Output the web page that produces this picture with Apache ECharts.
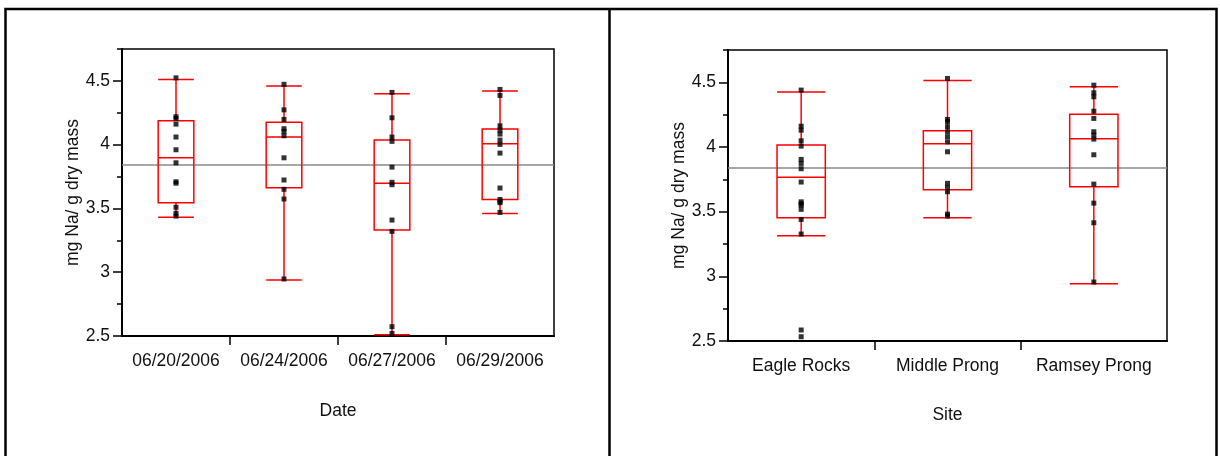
<!DOCTYPE html>
<html>
<head>
<meta charset="utf-8">
<script src="https://cdn.jsdelivr.net/npm/echarts@6/dist/echarts.min.js"></script>
<style>
html,body{margin:0;padding:0;background:#fff;}
#c{width:1220px;height:456px;}
</style>
</head>
<body>
<div id="c"></div>
<script>
// ---- data ----
const dates = ['06/20/2006', '06/24/2006', '06/27/2006', '06/29/2006'];
const sites = ['Eagle Rocks', 'Middle Prong', 'Ramsey Prong'];

// [min, Q1, median, Q3, max]
const dateBoxes = [
  [3.43, 3.545, 3.897, 4.187, 4.51],
  [2.94, 3.662, 4.06, 4.175, 4.46],
  [2.51, 3.331, 3.697, 4.036, 4.40],
  [3.46, 3.571, 4.007, 4.122, 4.42]
];
const datePoints = [
  [4.524, 4.219, 4.205, 4.161, 4.06, 3.96, 3.858, 3.709, 3.698, 3.509, 3.462, 3.44],
  [4.473, 4.273, 4.198, 4.125, 4.104, 4.07, 3.897, 3.723, 3.65, 3.574, 2.947],
  [4.41, 4.211, 4.06, 4.026, 3.824, 3.705, 3.686, 3.409, 3.32, 2.573, 2.52],
  [4.433, 4.386, 4.148, 4.114, 4.083, 4.036, 4.002, 3.934, 3.66, 3.57, 3.556, 3.545, 3.469]
];

const siteBoxes = [
  [3.314, 3.452, 3.766, 4.015, 4.426],
  [3.453, 3.67, 4.026, 4.125, 4.515],
  [2.943, 3.692, 4.063, 4.254, 4.465]
];
const sitePoints = [
  [4.44, 4.161, 4.13, 4.048, 4.007, 3.904, 3.873, 3.832, 3.729, 3.576, 3.561, 3.551, 3.518, 3.44, 3.327, 2.585, 2.533],
  [4.53, 4.213, 4.195, 4.156, 4.117, 4.079, 4.04, 3.963, 3.719, 3.688, 3.654, 3.481, 3.466],
  [4.478, 4.419, 4.388, 4.277, 4.221, 4.118, 4.092, 4.061, 3.94, 3.713, 3.566, 3.414, 2.956]
];

const grandMean = 3.837;
const yMin = 2.5, yMax = 4.75;
const yTicks = [2.5, 3, 3.5, 4, 4.5];
const yMinorTicks = [2.75, 3.25, 3.75, 4.25, 4.75];
const yTitle = 'mg Na/ g dry mass';
const xTitles = ['Date', 'Site'];

// ---- chart ----
const FONT = '"Liberation Sans", Arial, sans-serif';
const TXT = '#111';
const RED = '#ff0000';
const FS = 17.5;

function toPts(groups) {
  const out = [];
  groups.forEach((vals, i) => vals.forEach(v => out.push([i, v])));
  return out;
}
function innerBoundaries(n) {
  const b = [];
  for (let i = 1; i < n; i++) b.push(i);
  return b;
}

const grids = [
  {left: 122, top: 49, width: 432, height: 287},
  {left: 728, top: 50, width: 439, height: 291}
];
const panels = [
  {cats: dates, boxes: dateBoxes, pts: datePoints, xName: xTitles[0], nameGap: 66},
  {cats: sites, boxes: siteBoxes, pts: sitePoints, xName: xTitles[1], nameGap: 65}
];

const xAxis = [], yAxis = [], series = [];
panels.forEach((p, g) => {
  const xi = xAxis.length;
  xAxis.push({
    type: 'category', gridIndex: g, data: p.cats,
    axisLine: {lineStyle: {color: '#000', width: 2}},
    axisTick: {show: false},
    axisLabel: {color: TXT, fontSize: FS, fontFamily: FONT, margin: 16, interval: 0},
    name: p.xName, nameLocation: 'middle', nameGap: p.nameGap,
    nameTextStyle: {color: TXT, fontSize: FS, fontFamily: FONT},
    splitLine: {show: false}
  });
  xAxis.push({
    type: 'value', gridIndex: g, min: 0, max: p.cats.length, position: 'bottom',
    axisLine: {show: false},
    axisTick: {show: true, length: 9, customValues: innerBoundaries(p.cats.length),
      lineStyle: {color: '#000', width: 1.5}},
    axisLabel: {show: false}, splitLine: {show: false}
  });
  const yi = yAxis.length;
  yAxis.push({
    type: 'value', gridIndex: g, min: yMin, max: yMax,
    axisLine: {show: true, lineStyle: {color: '#000', width: 2}},
    axisTick: {show: true, length: 9, customValues: yTicks, lineStyle: {color: '#000', width: 1.5}},
    axisLabel: {color: TXT, fontSize: FS, fontFamily: FONT, margin: 12, customValues: yTicks,
      formatter: v => String(v)},
    splitLine: {show: false},
    name: yTitle, nameLocation: 'middle', nameGap: 40, nameRotate: 90,
    nameTextStyle: {color: TXT, fontSize: FS, fontFamily: FONT}
  });
  yAxis.push({
    type: 'value', gridIndex: g, min: yMin, max: yMax, position: 'left',
    axisLine: {show: false},
    axisTick: {show: true, length: 5, customValues: yMinorTicks, lineStyle: {color: '#000', width: 1.5}},
    axisLabel: {show: false}, splitLine: {show: false}
  });
  series.push({
    type: 'boxplot', xAxisIndex: xi, yAxisIndex: yi,
    data: p.boxes,
    boxWidth: ['33%', '33%'],
    itemStyle: {color: 'rgba(0,0,0,0)', borderColor: RED, borderWidth: 1.5},
    emphasis: {disabled: true},
    z: 3,
    markLine: {
      silent: true, symbol: ['none', 'none'], label: {show: false},
      lineStyle: {color: '#8a8a8a', width: 1.6, type: 'solid'},
      emphasis: {disabled: true},
      data: [{yAxis: grandMean}],
      z: 2
    }
  });
  series.push({
    type: 'scatter', xAxisIndex: xi, yAxisIndex: yi,
    data: toPts(p.pts),
    symbol: 'rect', symbolSize: 5,
    itemStyle: {color: '#000'},
    emphasis: {disabled: true},
    z: 5
  });
});

const chart = echarts.init(document.getElementById('c'), null, {renderer: 'canvas'});
chart.setOption({
  animation: false,
  backgroundColor: '#fff',
  grid: grids.map(gr => Object.assign({show: true, borderColor: '#000', borderWidth: 1.5,
    backgroundColor: 'transparent', containLabel: false}, gr)),
  xAxis, yAxis, series,
  graphic: [
    {type: 'rect', shape: {x: 5.5, y: 9, width: 1211, height: 470},
      style: {fill: 'none', stroke: '#000', lineWidth: 2.5}, silent: true, z: 10},
    {type: 'line', shape: {x1: 609.5, y1: 9, x2: 609.5, y2: 470},
      style: {stroke: '#000', lineWidth: 2.5}, silent: true, z: 10}
  ]
});
</script>
</body>
</html>
